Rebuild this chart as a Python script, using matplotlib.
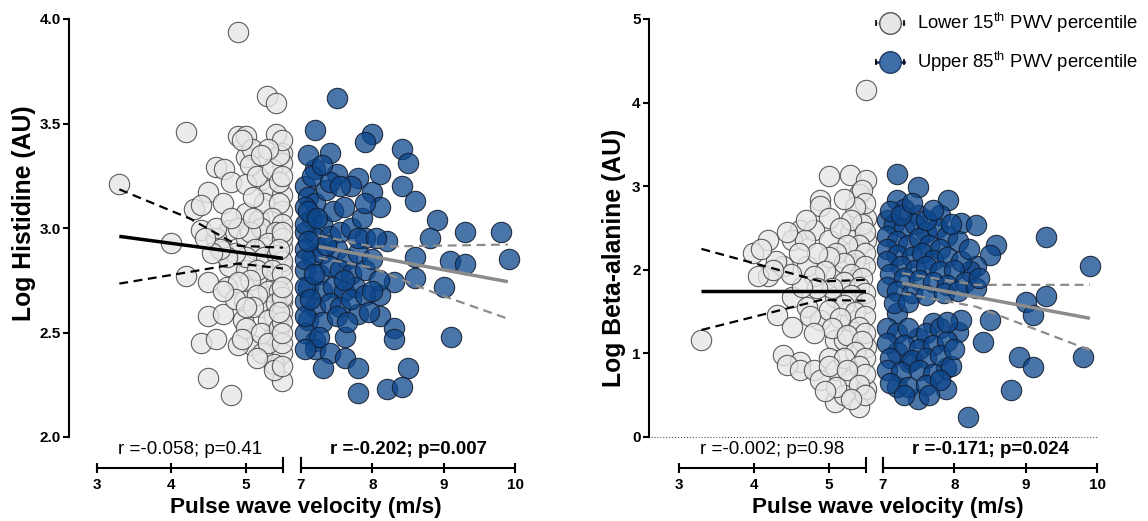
import matplotlib
matplotlib.use("Agg")
import matplotlib.pyplot as plt
from matplotlib.lines import Line2D

plt.rcParams['font.family'] = ['Liberation Sans', 'DejaVu Sans']
plt.rcParams['mathtext.fontset'] = 'custom'
plt.rcParams['mathtext.rm'] = 'Liberation Sans'

W, H = 1148, 521

# %% data - panel A (histidine)
his_low = [
    (4.89, 3.94), (5.29, 3.63), (5.40, 3.60), (4.20, 3.46), (4.90, 3.44), (5.00, 3.44),
    (5.40, 3.45), (5.00, 3.34), (5.09, 3.38), (5.49, 3.36), (5.49, 3.31), (4.60, 3.29),
    (4.71, 3.28), (4.80, 3.22), (5.20, 3.23), (5.31, 3.18), (5.00, 3.21), (4.49, 3.17),
    (3.30, 3.21), (4.31, 3.09), (4.40, 3.11), (5.49, 3.16), (5.49, 3.08), (5.00, 3.07),
    (5.18, 3.04), (4.40, 2.99), (4.78, 2.99), (4.00, 2.93), (4.60, 2.95), (4.69, 2.89),
    (5.00, 2.95), (5.27, 2.97), (5.49, 2.91), (4.20, 2.77), (4.49, 2.74), (4.78, 2.82),
    (5.00, 2.80), (5.22, 2.76), (5.40, 2.74), (5.49, 2.82), (4.75, 2.72), (4.98, 2.65),
    (4.49, 2.58), (4.69, 2.59), (4.96, 2.56), (5.22, 2.62), (5.38, 2.58), (5.49, 2.65),
    (4.40, 2.45), (4.60, 2.47), (5.09, 2.44), (5.38, 2.49), (4.89, 2.44), (5.22, 2.40),
    (5.49, 2.40), (4.49, 2.28), (4.80, 2.20), (5.49, 2.27), (5.38, 2.35),
    (5.05, 3.30), (5.15, 3.25), (5.35, 3.28), (5.45, 3.22), (5.25, 3.12), (5.45, 3.12),
    (5.10, 3.15), (5.35, 3.05), (5.48, 3.02), (5.20, 3.00), (5.40, 2.98), (5.05, 2.98),
    (4.90, 3.00), (5.30, 2.93), (5.48, 2.95), (5.12, 2.90), (5.25, 2.86), (5.42, 2.87),
    (5.48, 2.84), (5.00, 2.86), (4.85, 2.88), (4.75, 2.86), (4.65, 2.90), (5.15, 2.80),
    (5.35, 2.80), (5.48, 2.78), (5.05, 2.75), (4.90, 2.74), (5.30, 2.70), (5.45, 2.70),
    (5.15, 2.68), (4.85, 2.66), (5.40, 2.64), (5.10, 2.62), (5.48, 2.60), (5.30, 2.56),
    (5.00, 2.52), (5.20, 2.50), (5.45, 2.52), (5.30, 2.45), (5.48, 2.45), (4.95, 2.47),
    (5.15, 2.38), (5.38, 2.32), (5.00, 2.62), (4.70, 2.70), (4.55, 2.88), (4.60, 3.00),
    (4.45, 2.95), (4.70, 3.12), (4.80, 3.05), (5.45, 3.35), (5.48, 3.42), (5.30, 3.38),
    (5.20, 3.35), (4.95, 3.42), (5.10, 3.05), (5.48, 2.67), (5.48, 2.55), (5.48, 2.34),
    (5.49, 3.25), (5.49, 2.98), (5.49, 2.72), (5.49, 2.50), (5.44, 2.60), (5.44, 2.90),
]
his_high = [
    (7.50, 3.62), (7.20, 3.47), (8.00, 3.45), (7.90, 3.41), (7.40, 3.36), (8.41, 3.38),
    (8.50, 3.31), (7.20, 3.28), (7.50, 3.26), (7.80, 3.24), (8.11, 3.26), (8.41, 3.20),
    (8.00, 3.17), (8.11, 3.10), (8.60, 3.13), (8.90, 3.04), (8.81, 2.95), (9.30, 2.98),
    (9.80, 2.98), (8.20, 2.94), (8.60, 2.86), (9.09, 2.84), (9.30, 2.83), (9.91, 2.85),
    (8.60, 2.76), (9.00, 2.72), (8.30, 2.74), (8.11, 2.68), (7.80, 2.59), (8.11, 2.58),
    (8.30, 2.52), (8.30, 2.47), (7.62, 2.48), (9.10, 2.48), (7.20, 2.46), (7.20, 2.42),
    (7.40, 2.40), (7.62, 2.38), (7.31, 2.33), (7.80, 2.33), (8.50, 2.33), (7.80, 2.21),
    (8.20, 2.23), (8.41, 2.24),
    (7.05, 3.20), (7.10, 3.15), (7.20, 3.12), (7.35, 3.18), (7.15, 3.05), (7.30, 3.02),
    (7.45, 3.08), (7.60, 3.10), (7.70, 3.20), (7.05, 2.98), (7.20, 2.95), (7.40, 2.96),
    (7.55, 2.98), (7.70, 3.00), (7.85, 3.05), (7.90, 2.95), (7.05, 2.90), (7.15, 2.86),
    (7.30, 2.88), (7.50, 2.90), (7.65, 2.85), (7.80, 2.88), (7.05, 2.80), (7.25, 2.78),
    (7.40, 2.82), (7.55, 2.80), (7.70, 2.78), (7.90, 2.80), (8.00, 2.85), (7.10, 2.72),
    (7.30, 2.70), (7.45, 2.72), (7.60, 2.70), (7.75, 2.72), (7.05, 2.65), (7.20, 2.62),
    (7.40, 2.64), (7.55, 2.62), (7.70, 2.66), (7.90, 2.68), (7.10, 2.56), (7.30, 2.55),
    (7.50, 2.58), (7.05, 2.50), (7.25, 2.48), (7.65, 2.55), (7.15, 3.25), (7.40, 3.22),
    (7.55, 3.20), (7.90, 3.12), (7.80, 2.95), (8.05, 2.95), (7.60, 2.75), (7.35, 2.92),
    (7.95, 2.60), (8.10, 2.75), (8.00, 2.70), (7.10, 3.35), (7.30, 3.30), (7.05, 2.42),
    (7.05, 3.10), (7.05, 3.02), (7.05, 2.85), (7.05, 2.72), (7.05, 2.58), (7.10, 2.94),
    (7.10, 3.08), (7.12, 2.66), (7.18, 2.78), (7.22, 3.05),
]
# regression fits and 95% bands
his_low_fit_x = [3.3, 5.5]
his_low_fit_y = [2.96, 2.855]
his_low_ci_x = [3.3, 4.25, 4.9, 5.5]
his_low_ci_hi = [3.185, 3.045, 2.915, 2.906]
his_low_ci_lo = [2.734, 2.79, 2.83, 2.806]
his_high_fit_x = [7.25, 9.9]
his_high_fit_y = [2.911, 2.743]
his_high_ci_x = [7.25, 8.0, 8.9, 9.9]
his_high_ci_hi = [2.964, 2.911, 2.915, 2.921]
his_high_ci_lo = [2.858, 2.81, 2.686, 2.566]

# %% data - panel B (beta-alanine)
ba_low = [
    (5.50, 4.15), (5.00, 3.12), (5.29, 3.13), (5.50, 3.08), (5.40, 2.91), (4.89, 2.83),
    (4.89, 2.76), (5.00, 2.62), (5.40, 2.68), (5.50, 2.62), (4.62, 2.48), (4.80, 2.48),
    (5.29, 2.44), (4.51, 2.36), (4.19, 2.36), (4.69, 2.36), (3.99, 2.20), (5.00, 2.36),
    (5.29, 2.20), (5.50, 2.36), (4.19, 1.93), (4.39, 2.04), (4.71, 2.04), (5.10, 1.93),
    (5.40, 2.04), (4.51, 1.68), (4.71, 1.56), (4.31, 1.46), (4.51, 1.32), (5.09, 1.68),
    (4.89, 1.40), (5.29, 1.40), (5.09, 1.16), (5.20, 1.16), (5.50, 1.08), (3.30, 1.16),
    (4.39, 0.98), (4.62, 0.90), (4.45, 0.86), (4.62, 0.80), (4.80, 0.80), (5.00, 0.94),
    (5.10, 0.80), (5.29, 0.68), (5.50, 0.58), (5.09, 0.42), (5.20, 0.50), (5.40, 0.36),
    (4.89, 0.68),
    (5.45, 2.95), (5.48, 2.80), (5.35, 2.75), (5.20, 2.85), (5.45, 2.55), (5.30, 2.60),
    (5.15, 2.50), (5.48, 2.45), (5.40, 2.30), (5.25, 2.30), (5.10, 2.20), (5.48, 2.20),
    (5.35, 2.12), (5.20, 2.08), (5.00, 2.15), (4.85, 2.20), (5.48, 2.05), (5.30, 1.95),
    (5.45, 1.90), (4.95, 1.98), (4.80, 1.92), (5.20, 1.85), (5.40, 1.80), (5.48, 1.72),
    (5.05, 1.78), (4.85, 1.78), (5.30, 1.70), (4.65, 1.80), (4.50, 1.95), (5.48, 1.60),
    (5.20, 1.58), (5.35, 1.50), (5.00, 1.52), (5.48, 1.45), (5.15, 1.42), (4.75, 1.45),
    (5.40, 1.32), (5.05, 1.30), (5.48, 1.25), (5.25, 1.22), (4.80, 1.25), (5.45, 1.15),
    (5.35, 1.02), (5.48, 0.95), (5.20, 0.95), (5.40, 0.85), (5.00, 0.85), (5.48, 0.75),
    (5.25, 0.80), (5.40, 0.62), (5.10, 0.60), (5.48, 0.50), (5.30, 0.45), (4.95, 0.55),
    (4.60, 2.20), (4.30, 2.10), (4.70, 2.60), (4.45, 2.45), (4.10, 2.25), (4.05, 1.93),
    (4.25, 2.00),
]
ba_high = [
    (7.19, 3.15), (7.49, 2.99), (7.91, 2.83), (7.19, 2.83), (7.30, 2.73), (7.80, 2.66),
    (7.49, 2.66), (8.10, 2.56), (8.31, 2.54), (9.29, 2.39), (8.59, 2.30), (8.50, 2.18),
    (9.90, 2.05), (8.31, 2.04), (8.22, 1.98), (9.29, 1.69), (9.00, 1.62), (9.10, 1.46),
    (8.50, 1.40), (8.05, 1.26), (8.40, 1.14), (7.70, 1.36), (8.90, 0.96), (9.10, 0.84),
    (9.80, 0.96), (8.80, 0.56), (8.19, 0.24), (7.88, 0.83), (7.88, 0.58), (7.19, 0.60),
    (7.49, 0.46), (7.36, 0.90), (7.19, 1.02), (7.19, 1.48), (7.49, 1.18),
    (7.05, 2.60), (7.15, 2.55), (7.30, 2.50), (7.45, 2.55), (7.60, 2.45), (7.75, 2.50),
    (7.90, 2.40), (8.05, 2.35), (7.05, 2.40), (7.20, 2.35), (7.35, 2.30), (7.50, 2.38),
    (7.65, 2.30), (7.80, 2.25), (7.05, 2.25), (7.20, 2.18), (7.40, 2.15), (7.55, 2.20),
    (7.70, 2.12), (7.90, 2.15), (8.10, 2.10), (7.05, 2.10), (7.25, 2.05), (7.45, 2.00),
    (7.60, 2.05), (7.80, 1.98), (8.00, 2.00), (7.10, 1.95), (7.30, 1.90), (7.50, 1.88),
    (7.70, 1.85), (7.90, 1.82), (8.15, 1.85), (7.05, 1.80), (7.20, 1.75), (7.40, 1.72),
    (7.60, 1.70), (7.85, 1.72), (8.05, 1.75), (8.30, 1.78), (7.15, 1.60), (7.35, 1.62),
    (7.10, 2.70), (7.25, 2.65), (7.60, 2.60), (7.40, 2.80), (7.70, 2.72), (7.95, 2.55),
    (8.20, 2.25), (8.35, 1.90),
    (7.05, 1.30), (7.20, 1.25), (7.35, 1.30), (7.60, 1.25), (7.80, 1.30), (7.05, 1.12),
    (7.30, 1.10), (7.50, 1.05), (7.70, 1.10), (7.90, 1.15), (7.10, 0.95), (7.40, 0.92),
    (7.60, 0.95), (7.80, 0.98), (7.05, 0.80), (7.25, 0.78), (7.50, 0.80), (7.70, 0.75),
    (7.95, 0.85), (7.10, 0.65), (7.35, 0.60), (7.60, 0.62), (7.80, 0.68), (7.30, 0.50),
    (7.65, 0.50), (8.00, 1.05), (8.10, 1.40), (7.90, 1.38),
]
ba_low_fit_x = [3.3, 5.5]
ba_low_fit_y = [1.75, 1.75]
ba_low_ci_x = [3.3, 4.9, 5.5]
ba_low_ci_hi = [2.25, 1.86, 1.88]
ba_low_ci_lo = [1.28, 1.64, 1.63]
ba_high_fit_x = [7.27, 9.9]
ba_high_fit_y = [1.84, 1.42]
ba_high_ci_x = [7.27, 8.3, 9.9]
ba_high_ci_hi = [1.96, 1.82, 1.82]
ba_high_ci_lo = [1.72, 1.56, 1.04]

low_ticks = [3, 4, 5]
high_ticks = [7, 8, 9, 10]
legend_labels = ['Lower 15$^{\\mathrm{th}}$ PWV percentile', 'Upper 85$^{\\mathrm{th}}$ PWV percentile']

# %% drawing
LOW_FACE = (0.90, 0.90, 0.90, 0.8)
LOW_EDGE = (0.30, 0.30, 0.30, 0.9)
HIGH_FACE = (0.05, 0.28, 0.55, 0.75)
HIGH_EDGE = (0.08, 0.12, 0.20, 0.9)

fig = plt.figure(figsize=(W / 100, H / 100), dpi=100)


def px_axes(x0, x1, y0, y1):
    ax = fig.add_axes([x0 / W, 1 - y1 / H, (x1 - x0) / W, (y1 - y0) / H])
    ax.patch.set_visible(False)
    return ax


def panel(lo_px, hi_px, spine_px, ylim, yticks, ylabels, low_pts, high_pts, fits, rtexts, ylabel, ylabel_xy):
    ax_lo = px_axes(lo_px[0], lo_px[1], 19, 437)
    ax_hi = px_axes(hi_px[0], hi_px[1], 19, 437)
    ax_lo.set_xlim(3, 5.5)
    ax_hi.set_xlim(7, 10)
    for ax in (ax_lo, ax_hi):
        ax.set_ylim(*ylim)
        ax.spines[['top', 'right']].set_visible(False)
        ax.spines['bottom'].set_position(('outward', 31 * 0.72))
        ax.spines['bottom'].set_linewidth(1.5)
        ax.tick_params(axis='x', direction='inout', length=7, width=1.5, pad=3.5)
    ax_hi.spines['left'].set_visible(False)
    ax_hi.tick_params(axis='y', left=False, labelleft=False)
    ax_lo.spines['left'].set_position(('outward', (lo_px[0] - spine_px) * 0.72))
    ax_lo.spines['left'].set_linewidth(1.5)
    ax_lo.tick_params(axis='y', direction='out', length=4.5, width=1.5, pad=1.5)
    ax_lo.set_yticks(yticks, ylabels, fontweight='bold', fontsize=11)
    ax_lo.set_xticks(low_ticks, [str(t) for t in low_ticks], fontweight='bold', fontsize=11)
    ax_hi.set_xticks(high_ticks, [str(t) for t in high_ticks], fontweight='bold', fontsize=11)

    # break marks at the inner ends of the two x axes
    off = 31 / 418
    ax_lo.plot([5.5, 5.5], [-off - 0.01, -off + 0.024], color='black', lw=1.5,
               transform=ax_lo.get_xaxis_transform(), clip_on=False)
    ax_hi.plot([7, 7], [-off - 0.01, -off + 0.024], color='black', lw=1.5,
               transform=ax_hi.get_xaxis_transform(), clip_on=False)

    ax_lo.scatter([p[0] for p in low_pts], [p[1] for p in low_pts], s=215,
                  facecolor=LOW_FACE, edgecolor=LOW_EDGE, linewidth=0.8, clip_on=False, zorder=2)
    ax_hi.scatter([p[0] for p in high_pts], [p[1] for p in high_pts], s=215,
                  facecolor=HIGH_FACE, edgecolor=HIGH_EDGE, linewidth=0.8, clip_on=False, zorder=2)

    (lfx, lfy, lcx, lch, lcl), (hfx, hfy, hcx, hch, hcl) = fits
    ax_lo.plot(lfx, lfy, color='black', lw=2.5, zorder=4, solid_capstyle='butt')
    ax_lo.plot(lcx, lch, color='black', lw=1.6, ls=(0, (4, 2.5)), zorder=4)
    ax_lo.plot(lcx, lcl, color='black', lw=1.6, ls=(0, (4, 2.5)), zorder=4)
    ax_hi.plot(hfx, hfy, color='#8c8c8c', lw=2.5, zorder=4, solid_capstyle='butt')
    ax_hi.plot(hcx, hch, color='#8c8c8c', lw=1.6, ls=(0, (4, 2.5)), zorder=4)
    ax_hi.plot(hcx, hcl, color='#8c8c8c', lw=1.6, ls=(0, (4, 2.5)), zorder=4)

    cx_lo = (lo_px[0] + lo_px[1]) / 2 / W
    cx_hi = (hi_px[0] + hi_px[1]) / 2 / W
    fig.text(cx_lo, 1 - 450 / H, rtexts[0], ha='center', va='center', fontsize=13.5)
    fig.text(cx_hi, 1 - 450 / H, rtexts[1], ha='center', va='center', fontsize=13.5, fontweight='bold')
    fig.text((lo_px[0] + hi_px[1]) / 2 / W, 1 - 507 / H, 'Pulse wave velocity (m/s)',
             ha='center', va='center', fontsize=16.2, fontweight='bold')
    fig.text(ylabel_xy[0] / W, 1 - ylabel_xy[1] / H, ylabel, ha='center', va='center', rotation=90,
             fontsize=17.8, fontweight='bold')
    return ax_lo, ax_hi


panel((97, 283), (301, 515), 69, (2.0, 4.0), [2.0, 2.5, 3.0, 3.5, 4.0],
      ['2.0', '2.5', '3.0', '3.5', '4.0'], his_low, his_high,
      ((his_low_fit_x, his_low_fit_y, his_low_ci_x, his_low_ci_hi, his_low_ci_lo),
       (his_high_fit_x, his_high_fit_y, his_high_ci_x, his_high_ci_hi, his_high_ci_lo)),
      ('r =-0.058; p=0.41', 'r =-0.202; p=0.007'), 'Log Histidine (AU)', (24, 213))

panel((679, 866), (883, 1097), 649, (0, 5), [0, 1, 2, 3, 4, 5],
      ['0', '1', '2', '3', '4', '5'], ba_low, ba_high,
      ((ba_low_fit_x, ba_low_fit_y, ba_low_ci_x, ba_low_ci_hi, ba_low_ci_lo),
       (ba_high_fit_x, ba_high_fit_y, ba_high_ci_x, ba_high_ci_hi, ba_high_ci_lo)),
      ('r =-0.002; p=0.98', 'r =-0.171; p=0.024'), 'Log Beta-alanine (AU)', (614, 258))

# dotted zero line across the beta-alanine panel
fig.add_artist(Line2D([651 / W, 1097 / W], [1 - 437 / H] * 2, color='#555555', lw=0.8, ls=':'))

# legend drawn by hand: circle with a line through it, then the label
legend_style = [
    dict(color='#c8c8c8', mfc='#e6e6e6', mec='#555555'),
    dict(color='#1f3d66', mfc='#3f6fa8', mec='#1f3d66'),
]
for i, (lab, st) in enumerate(zip(legend_labels, legend_style)):
    yy = 1 - (23 + 39 * i) / H
    fig.add_artist(Line2D([876 / W, 890 / W, 904 / W], [yy] * 3, lw=2, marker='o', ms=15.5,
                          markevery=[1], **st))
    fig.add_artist(Line2D([876 / W, 904 / W], [yy] * 2, lw=0, marker='|', ms=4,
                          color='black', mew=1.2))
    fig.text(917 / W, yy, lab, ha='left', va='center', fontsize=13.3)

fig.savefig('out.png', dpi=100)
